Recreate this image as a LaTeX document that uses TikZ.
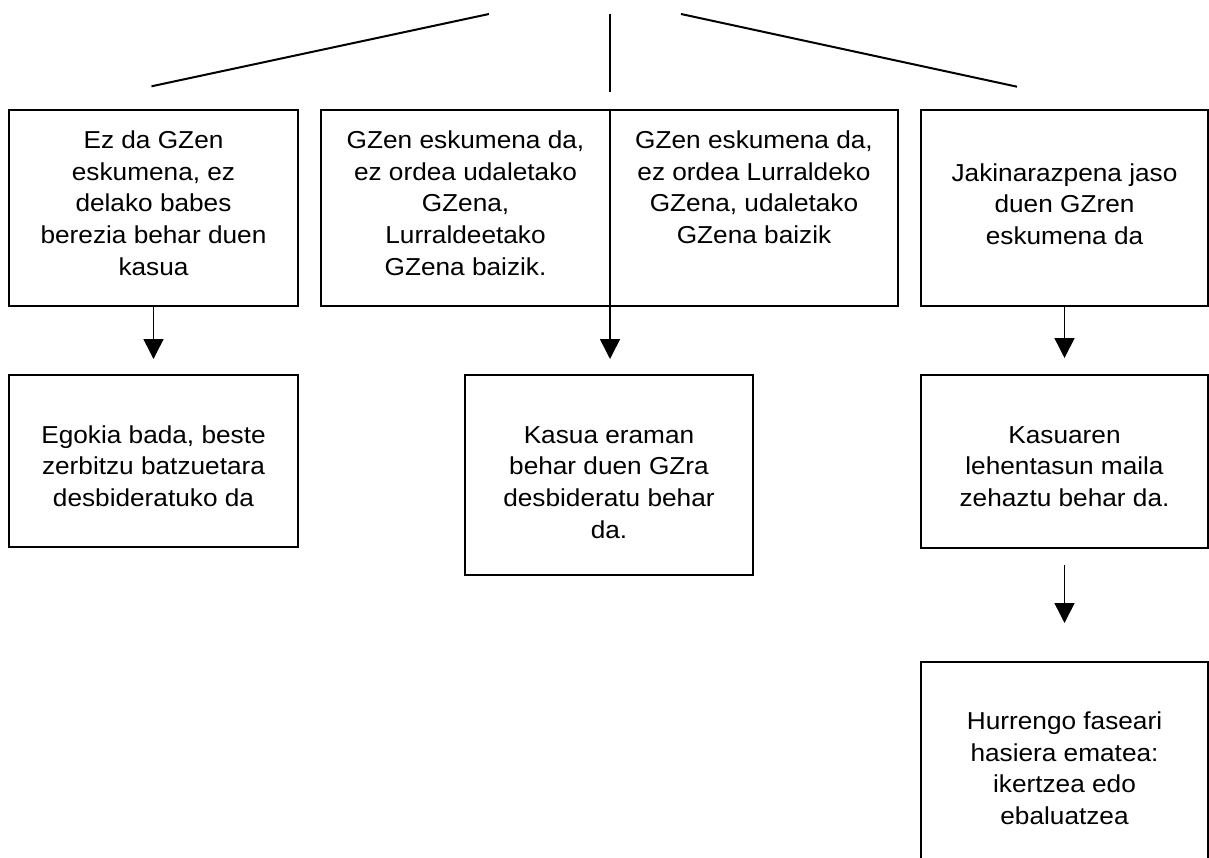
\documentclass[tikz,border=0pt]{standalone}
\usepackage{fontspec}
\setmainfont[FakeStretch=1.07]{Liberation Sans}
\usetikzlibrary{arrows.meta}

\tikzset{
  box/.style={draw, line width=1.3pt, inner sep=0pt, outer sep=0pt,
    anchor=north west, font=\fontsize{24.5}{31.7}\selectfont},
  link/.style={line width=1.5pt, -{Triangle[width=20pt,length=20pt]}},
  branch/.style={line width=2pt},
}
% centred multi-line box text, baseline at the first line
\newcommand{\boxtext}[1]{\parbox[t]{280pt}{\centering #1}}

\begin{document}
\begin{tikzpicture}[x=1pt,y=-1pt]
\useasboundingbox (0,0) rectangle (1209,857);
\clip (0,0) rectangle (1209,857);

% branching strokes at the top
\coordinate (la) at (151.5,86.3);
\coordinate (lb) at (489,14);
\coordinate (ma) at (609.5,14);
\coordinate (mb) at (609.5,92);
\coordinate (ra) at (681,14);
\coordinate (rb) at (1017,86.7);
\draw[branch] (la) -- (lb);
\draw[branch] (ma) -- (mb);
\draw[branch] (ra) -- (rb);

% first row
\node[box, minimum width=289pt, text height=38.5pt, text depth=157.5pt] (b1) at (9,110)
  {\boxtext{Ez da GZen\\eskumena, ez\\delako babes\\berezia behar duen\\kasua}};
\node[box, minimum width=289pt, text height=38.5pt, text depth=157.5pt] (b2) at (321,110)
  {\boxtext{GZen eskumena da,\\ez ordea udaletako\\GZena,\\Lurraldeetako\\GZena baizik.}};
\node[box, minimum width=288pt, text height=38.5pt, text depth=157.5pt] (b3) at (610,110)
  {\boxtext{GZen eskumena da,\\ez ordea Lurraldeko\\GZena, udaletako\\GZena baizik}};
\node[box, minimum width=287pt, text height=71pt, text depth=125pt] (b4) at (921,110)
  {\boxtext{Jakinarazpena jaso\\duen GZren\\eskumena da}};

% second row
\node[box, minimum width=289pt, text height=68pt, text depth=104pt] (b5) at (9,375)
  {\boxtext{Egokia bada, beste\\zerbitzu batzuetara\\desbideratuko da}};
\node[box, minimum width=288pt, text height=68pt, text depth=132pt] (b6) at (465,375)
  {\boxtext{Kasua eraman\\behar duen GZra\\desbideratu behar\\da.}};
\node[box, minimum width=287pt, text height=68pt, text depth=105pt] (b7) at (921,375)
  {\boxtext{Kasuaren\\lehentasun maila\\zehaztu behar da.}};

% third row
\node[box, minimum width=287pt, text height=67.5pt, text depth=220pt] (b8) at (921,662)
  {\boxtext{Hurrengo faseari\\hasiera ematea:\\ikertzea edo\\ebaluatzea}};

% arrows
\draw[link, shorten >=16pt] (b1.south) -- (b5.north);
\draw[link, shorten >=16pt] (b2.south east) -- (b2.south east |- b6.north);
\draw[link, shorten >=17pt] (b4.south) -- (b7.north);
\draw[link, shorten <=17pt, shorten >=39pt] (b7.south) -- (b8.north);
\end{tikzpicture}
\end{document}
